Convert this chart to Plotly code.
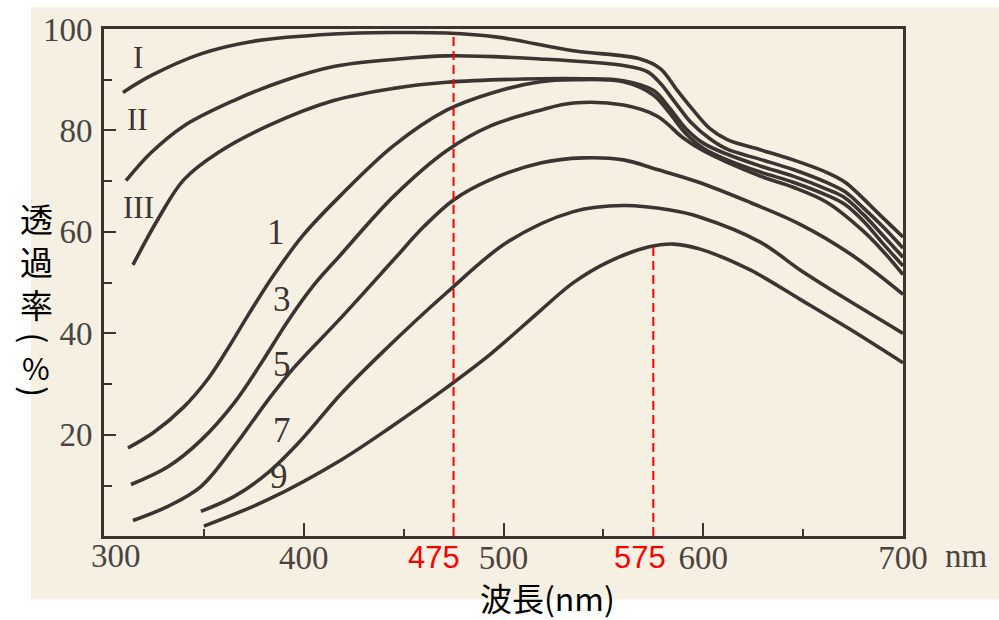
import numpy as np
import plotly.graph_objects as go

# Transmittance (%) against wavelength (nm) for each curve
wl_I = [309.5, 323.5, 348.5, 373.5, 415, 445, 471.5, 497, 535, 568.5, 578.5, 587, 595, 603.5, 612, 628.5, 645, 662, 671, 679, 687, 700]
tr_I = [87.5, 90.8, 95.1, 97.5, 99.0, 99.3, 99.2, 98.4, 95.7, 94.1, 92.2, 87.9, 84.0, 80.3, 78.2, 76.2, 74.2, 71.7, 69.8, 67.0, 63.9, 59.0]

wl_II = [311, 323.5, 340, 365, 390, 415, 445, 471.5, 518.5, 560, 572, 578.5, 586, 594, 603.5, 612, 628.5, 645, 662, 671, 680, 690, 700]
tr_II = [70.1, 75.6, 80.9, 85.9, 89.8, 92.6, 94.0, 94.7, 94.1, 92.8, 91.6, 89.3, 85.5, 81.5, 78.3, 76.3, 74.3, 72.3, 69.7, 67.9, 64.8, 61.0, 56.8]

wl_III = [314.5, 327, 340, 357, 382, 415, 445, 471.5, 518.5, 540, 560, 575, 583, 591, 600, 612, 628.5, 645, 662, 671, 680, 690, 700]
tr_III = [53.5, 62.5, 70.3, 75.6, 80.9, 85.9, 88.3, 89.5, 90.2, 90.2, 89.8, 87.9, 84.5, 80.5, 77.5, 75.3, 73.0, 71.0, 68.4, 66.7, 63.5, 59.3, 55.0]

wl_1 = [312, 325, 340, 352, 362, 372, 385, 400, 418.5, 445, 471.5, 495, 518.5, 535, 560, 575, 583, 591, 600, 612, 628.5, 645, 662, 671, 680, 690, 700]
tr_1 = [17.4, 20.5, 25.5, 31.0, 37.0, 43.5, 51.5, 59.5, 67.2, 77.0, 84.0, 87.5, 89.6, 90.0, 89.6, 87.0, 83.5, 79.5, 76.5, 74.2, 71.8, 69.8, 67.2, 65.4, 62.2, 57.7, 53.3]

wl_3 = [313.5, 332, 348.5, 365, 378.5, 392, 405, 418.5, 445, 471.5, 493.5, 518.5, 535, 560, 577, 590, 600, 628.5, 645, 662, 680, 690, 700]
tr_3 = [10.2, 13.7, 18.9, 26.2, 34.0, 42.4, 49.5, 55.5, 67.0, 76.0, 80.9, 84.0, 85.4, 85.0, 82.8, 78.5, 76.0, 71.0, 68.8, 65.8, 60.2, 56.2, 51.6]

wl_5 = [314.5, 332, 348.5, 365, 382, 395, 418.5, 445, 460, 475, 493.5, 518.5, 540, 560, 577, 598.5, 623.5, 648.5, 673.5, 700]
tr_5 = [3.1, 5.9, 9.8, 17.6, 26.8, 33.2, 43.0, 54.5, 61.0, 66.3, 70.3, 73.6, 74.6, 74.2, 72.3, 69.7, 65.8, 61.5, 55.7, 47.7]

wl_7 = [348.5, 365, 382, 398.5, 418.5, 440, 471.5, 502, 535, 560, 583.5, 598.5, 628.5, 648.5, 668.5, 700]
tr_7 = [4.9, 7.8, 12.5, 18.9, 28.0, 36.5, 48.0, 58.0, 64.0, 65.2, 64.3, 62.9, 58.0, 52.5, 47.5, 40.0]

wl_9 = [350, 382, 418.5, 443.5, 471.5, 493.5, 518.5, 535, 552, 572.5, 585, 598.5, 623.5, 648.5, 673.5, 700]
tr_9 = [2.0, 7.2, 15.0, 21.5, 29.3, 35.9, 44.5, 50.0, 54.0, 57.0, 57.6, 56.6, 52.5, 46.7, 40.8, 34.2]

curve_names = ["I", "II", "III", "1", "3", "5", "7", "9"]
curve_wl = [wl_I, wl_II, wl_III, wl_1, wl_3, wl_5, wl_7, wl_9]
curve_tr = [tr_I, tr_II, tr_III, tr_1, tr_3, tr_5, tr_7, tr_9]

# curve label positions (nm, %)
label_x = [317.0, 317.0, 317.5, 386.1, 389.1, 389.1, 389.1, 387.6]
label_y = [94.4, 82.1, 64.9, 59.9, 46.6, 33.9, 20.8, 11.8]

# axis ticks
x_ticks = [400, 500, 600, 700]
y_ticks = [20, 40, 60, 80, 100]

# highlighted wavelengths and the curve each dashed line rises to
marked_nm = [475, 575]
marked_curve = ["I", "9"]
marked_shift = [-20, -13]

INK = "#3b3430"
TEXT = "#4a4441"
PAPER = "#f5f0e2"
RED = "#ff0000"

# plot area in pixels
L, R, T, B = 104, 903, 25, 536
W, H = 999, 620


def px_x(p):
    return (p - L) / (R - L)


def px_y(p):
    return (B - p) / (B - T)


fig = go.Figure()
for name, wl, tr in zip(curve_names, curve_wl, curve_tr):
    fig.add_trace(go.Scatter(
        x=wl, y=tr, mode="lines", name=name,
        line=dict(color=INK, width=3.6, shape="spline", smoothing=1.0),
        hoverinfo="skip", showlegend=False,
    ))

annotations = []
for name, lx, ly in zip(curve_names, label_x, label_y):
    roman = name in ("I", "II", "III")
    annotations.append(dict(
        x=lx, y=ly, xref="x", yref="y", text=name, showarrow=False,
        font=dict(family="Liberation Serif", size=31 if roman else 35, color=INK),
    ))

# red dashed markers and their labels
for nm, cname, sh in zip(marked_nm, marked_curve, marked_shift):
    i = curve_names.index(cname)
    top = float(np.interp(nm, curve_wl[i], curve_tr[i]))
    fig.add_shape(type="line", xref="x", yref="y", x0=nm, x1=nm, y0=0.05, y1=top,
                  line=dict(color=RED, width=2, dash="9px,5px"), layer="above")
    annotations.append(dict(
        x=nm, y=0, xref="x", yref="paper", yanchor="top", text=str(nm),
        showarrow=False, xshift=sh, yshift=-2,
        font=dict(family="Liberation Sans", size=31, color=RED),
    ))

# left-most x tick label and the unit after 700
annotations.append(dict(x=300, y=0, xref="x", yref="paper", yanchor="top", text="300",
                        showarrow=False, xshift=12, yshift=0,
                        font=dict(family="Liberation Serif", size=33, color=TEXT)))
annotations.append(dict(x=700, y=0, xref="x", yref="paper", yanchor="top", xanchor="left",
                        text="nm", showarrow=False, xshift=40, yshift=0,
                        font=dict(family="Liberation Serif", size=33, color=TEXT)))

# vertical y-axis title: the kanji stacked, then the bracketed unit
annotations.append(dict(
    x=px_x(36), y=px_y(259), xref="paper", yref="paper",
    xanchor="center", yanchor="middle", text="透<br>過<br>率", showarrow=False,
    font=dict(family="Noto Sans CJK JP", size=33, color="#000000"),
))
unit_chars = ["(", "%", ")"]
unit_rows = [336, 366, 390]
unit_sizes = [32, 30, 32]
unit_angle = [90, 0, 90]
for ch, row, sz, ang in zip(unit_chars, unit_rows, unit_sizes, unit_angle):
    annotations.append(dict(
        x=px_x(36), y=px_y(row), xref="paper", yref="paper",
        xanchor="center", yanchor="middle", text=ch, showarrow=False,
        textangle=ang,
        font=dict(family="Noto Sans CJK JP", size=sz, color="#000000"),
    ))

annotations.append(dict(
    x=px_x(547), y=px_y(597), xref="paper", yref="paper",
    xanchor="center", yanchor="middle",
    text="波長(nm)", showarrow=False,
    font=dict(family="Noto Sans CJK JP", size=32, color="#000000"),
))

# scanned page tone behind the chart
fig.add_shape(type="rect", xref="paper", yref="paper",
              x0=px_x(31), x1=px_x(W + 5), y0=px_y(600), y1=px_y(3),
              fillcolor=PAPER, line=dict(width=0), layer="below")

fig.update_layout(
    width=W, height=H,
    margin=dict(l=L, r=W - R, t=T, b=H - B),
    paper_bgcolor="#ffffff", plot_bgcolor=PAPER,
    annotations=annotations,
    showlegend=False,
)
fig.update_xaxes(
    range=[300, 700], showgrid=False, zeroline=False,
    showline=True, mirror=True, linecolor=INK, linewidth=2.6,
    ticks="inside", ticklen=13, tickwidth=2, tickcolor=INK,
    tickvals=x_ticks, ticktext=[str(v) for v in x_ticks],
    tickfont=dict(family="Liberation Serif", size=33, color=TEXT),
    ticklabelstandoff=-9,
    minor=dict(dtick=50, tick0=300, ticks="inside", ticklen=7, tickwidth=2, tickcolor=INK),
)
fig.update_yaxes(
    range=[0.05, 100], showgrid=False, zeroline=False,
    showline=True, mirror=True, linecolor=INK, linewidth=3,
    ticks="inside", ticklen=12, tickwidth=2, tickcolor=INK,
    tickvals=y_ticks, ticktext=[str(v) for v in y_ticks],
    tickfont=dict(family="Liberation Serif", size=33, color=TEXT),
    ticklabelstandoff=2,
    minor=dict(dtick=10, tick0=0, ticks="inside", ticklen=8, tickwidth=2, tickcolor=INK),
)

fig.write_html("out.html")
